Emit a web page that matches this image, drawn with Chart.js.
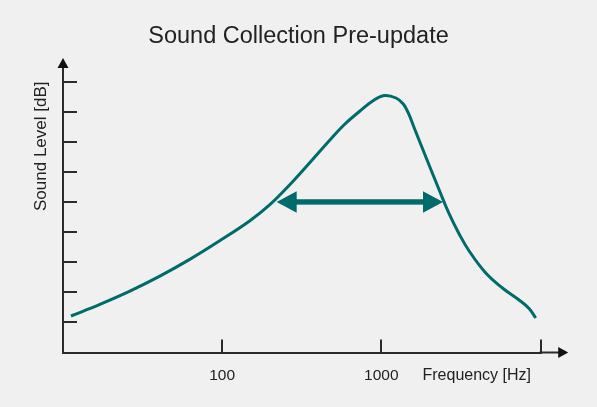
<!DOCTYPE html>
<html>
<head>
    <title>Sound Collection Pre-update</title>
    <script src="https://cdn.jsdelivr.net/npm/chart.js"></script>
    <style>
        html, body {
            margin: 0;
            padding: 0;
            background: #f0f0f0;
        }
        .chart-box {
            width: 597px;
            height: 407px;
        }
    </style>
</head>
<body>

<div class="chart-box">
    <canvas id="soundChart"></canvas>
</div>

<script>
// curve (frequency in Hz, level in axis units)
const freqHz = [11.22, 17.06, 26.31, 40.57, 62.55, 96.45, 148.7, 198.6, 265.0, 353.7,
                472.1, 586.1, 727.9, 882.2, 1044, 1237, 1374, 1477, 1610, 1915,
                2310, 2669, 3083, 3562, 4533, 5762, 7332, 8474, 9332];
const levelDb = [1.212, 1.597, 2.036, 2.534, 3.092, 3.710, 4.367, 4.899, 5.563, 6.294,
                 7.041, 7.572, 8.004, 8.353, 8.535, 8.452, 8.253, 7.954, 7.456, 6.460,
                 5.397, 4.600, 3.936, 3.371, 2.640, 2.142, 1.744, 1.461, 1.146];

// bandwidth arrow
const spanHz = [220, 2440];
const spanDb = [5, 5];

// ticks
const xTickValues = [100, 1000, 10000];
const xTickLabels = ['100', '1000', ''];
const yTickValues = [1, 2, 3, 4, 5, 6, 7, 8, 9];

// axis arrows reach a bit past the last tick
const xArrowEnd = 14930;
const yArrowEnd = 9.78;

const teal = '#006b68';
const axisColor = '#2b2b2b';
const textColor = '#222';
const fontFamily = "'Liberation Sans', Arial, sans-serif";

const decorations = {
    id: 'decorations',
    beforeDraw(chart) {
        const ctx = chart.ctx;
        ctx.save();
        ctx.fillStyle = '#f0f0f0';
        ctx.fillRect(0, 0, chart.width, chart.height);
        ctx.restore();
    },
    afterDatasetsDraw(chart) {
        // double headed arrow between the two span points
        const ctx = chart.ctx;
        const pts = chart.getDatasetMeta(1).data;
        const x1 = pts[0].x, x2 = pts[1].x, yy = pts[0].y;
        const head = 20, half = 10.8, shaft = 5.4;
        ctx.save();
        ctx.fillStyle = teal;
        ctx.fillRect(x1 + head - 1, yy - shaft / 2, x2 - x1 - 2 * head + 2, shaft);
        ctx.beginPath();
        ctx.moveTo(x1, yy);
        ctx.lineTo(x1 + head, yy - half);
        ctx.lineTo(x1 + head, yy + half);
        ctx.closePath();
        ctx.fill();
        ctx.beginPath();
        ctx.moveTo(x2, yy);
        ctx.lineTo(x2 - head, yy - half);
        ctx.lineTo(x2 - head, yy + half);
        ctx.closePath();
        ctx.fill();
        ctx.restore();
    },
    afterDraw(chart) {
        const {ctx, chartArea: a, scales: {x, y}} = chart;
        const yTip = y.getPixelForValue(yArrowEnd);
        const xTip = x.getPixelForValue(xArrowEnd);
        const left = a.left, bottom = a.bottom;
        ctx.save();
        ctx.strokeStyle = axisColor;
        ctx.fillStyle = '#111';
        ctx.lineWidth = 2;
        // extend the axis lines
        ctx.beginPath();
        ctx.moveTo(left, a.top + 1);
        ctx.lineTo(left, yTip + 8);
        ctx.moveTo(a.right - 1, bottom);
        ctx.lineTo(xTip - 8, bottom);
        ctx.stroke();
        // arrow heads
        ctx.beginPath();
        ctx.moveTo(left, yTip);
        ctx.lineTo(left - 5.5, yTip + 10);
        ctx.lineTo(left + 5.5, yTip + 10);
        ctx.closePath();
        ctx.fill();
        ctx.beginPath();
        ctx.moveTo(xTip, bottom);
        ctx.lineTo(xTip - 10, bottom - 5.5);
        ctx.lineTo(xTip - 10, bottom + 5.5);
        ctx.closePath();
        ctx.fill();
        // x axis title sits on the tick label line
        ctx.fillStyle = textColor;
        ctx.font = '16px ' + fontFamily;
        ctx.textAlign = 'right';
        ctx.textBaseline = 'middle';
        ctx.fillText('Frequency [Hz]', a.right - 9.5, bottom + 23);
        ctx.restore();
    }
};

new Chart(document.getElementById('soundChart'), {
    type: 'line',
    data: {
        datasets: [{
            label: 'Sound Level',
            data: freqHz.map((f, i) => ({x: f, y: levelDb[i]})),
            borderColor: teal,
            borderWidth: 3,
            pointRadius: 0,
            tension: 0.4,
            fill: false
        }, {
            label: 'Span',
            data: spanHz.map((f, i) => ({x: f, y: spanDb[i]})),
            showLine: false,
            pointRadius: 0,
            pointHoverRadius: 0
        }]
    },
    options: {
        responsive: true,
        maintainAspectRatio: false,
        animation: false,
        layout: {
            // symmetric sides keep the title centred on the canvas
            padding: {left: 56.5, right: 56.5, top: 0, bottom: -4.7}
        },
        plugins: {
            legend: { display: false },
            tooltip: { enabled: false },
            title: {
                display: true,
                text: 'Sound Collection Pre-update',
                color: textColor,
                font: { family: fontFamily, size: 23.5, weight: 'normal' },
                padding: { top: 22.1, bottom: 31.2 }
            }
        },
        scales: {
            x: {
                type: 'logarithmic',
                min: 10,
                max: 10000,
                afterBuildTicks: scale => {
                    scale.ticks = xTickValues.map(v => ({value: v}));
                },
                ticks: {
                    callback: (v, i) => xTickLabels[i],
                    color: textColor,
                    font: { family: fontFamily, size: 15.5 },
                    padding: 26.8,
                    maxRotation: 0,
                    autoSkip: false
                },
                grid: {
                    drawOnChartArea: false,
                    color: axisColor,
                    lineWidth: 2,
                    tickLength: -13
                },
                border: { color: axisColor, width: 2 }
            },
            y: {
                min: 0,
                max: 9,
                afterBuildTicks: scale => {
                    scale.ticks = yTickValues.map(v => ({value: v}));
                },
                ticks: { display: false },
                grid: {
                    drawOnChartArea: false,
                    color: axisColor,
                    lineWidth: 2,
                    tickLength: -14
                },
                border: { color: axisColor, width: 2 },
                title: {
                    display: true,
                    text: 'Sound Level [dB]',
                    align: 'end',
                    color: textColor,
                    font: { family: fontFamily, size: 17 },
                    padding: { top: -25.2, bottom: 25.3 }
                }
            }
        }
    },
    plugins: [decorations]
});
</script>

</body>
</html>
